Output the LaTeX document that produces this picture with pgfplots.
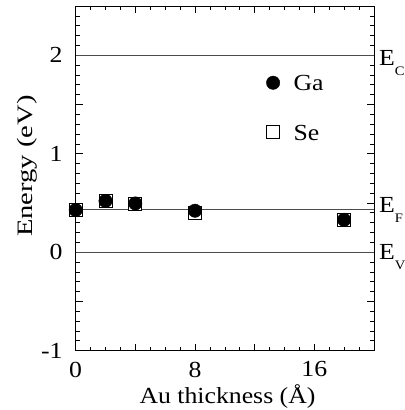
\documentclass[border=0pt]{standalone}
\usepackage{fontspec}
\setmainfont{Liberation Serif}[FakeStretch=1.12]
\newfontfamily\ylabfont{Liberation Serif}[FakeStretch=1.3]
\usepackage{pgfplots}
\pgfplotsset{compat=1.18}
\begin{document}
\fontsize{23}{27}\selectfont
\begin{tikzpicture}
\begin{axis}[
  name=ax,
  scale only axis,
  width=298.3pt, height=344.6pt,
  xmin=0, xmax=20, ymin=-1, ymax=2.5,
  xtick={0,4,8,12,16,20},
  xticklabels={0,,8,,16,},
  ytick={-1,-0.5,0,0.5,1,1.5,2,2.5},
  yticklabels={-1,,0,,1,,2,},
  minor x tick num=3,
  minor y tick num=4,
  tick align=inside,
  major tick length=7pt,
  minor tick length=4pt,
  tick style={black, line width=0.5pt},
  axis line style={line width=0.8pt},
  /pgf/number format/assume math mode=true,
  ticklabel style={font=\fontsize{23}{27}\selectfont, inner sep=0pt},
  xticklabel style={anchor=north, yshift=-11pt},
  yticklabel style={anchor=east, xshift=-13pt},
  xlabel={Au thickness (Å)},
  ylabel={Energy (eV)},
  xlabel style={font=\fontsize{23}{27}\selectfont, inner sep=0pt, at={(axis description cs:0.509,0)}, anchor=base, yshift=-53pt},
  ylabel style={font=\ylabfont\fontsize{22}{26}\selectfont, inner sep=0pt, at={(axis description cs:-0.164,0.535)}, anchor=center},
  clip=false,
]
\addplot[gray!60!black, line width=0.6pt, forget plot] coordinates {(0,2) (20,2)};
\addplot[gray!60!black, line width=0.6pt, forget plot] coordinates {(0,0.433) (20,0.433)};
\addplot[gray!60!black, line width=0.6pt, forget plot] coordinates {(0,0) (20,0)};
% Se (open squares)
\addplot[only marks, mark=square*, mark size=6.5pt, mark options={fill=white, draw=black, line width=0.7pt}]
 coordinates {(0,0.427) (2,0.52) (4,0.485) (8,0.40) (18,0.328) (13.24,1.22)};
% Ga (filled circles)
\addplot[only marks, mark=*, mark size=6.7pt, mark options={fill=black, draw=black}]
 coordinates {(0,0.427) (2,0.52) (4,0.494) (8,0.42) (18,0.328) (13.24,1.72)};
\node[anchor=base west, inner sep=0pt] at (axis cs:14.6,1.645) {Ga};
\node[anchor=base west, inner sep=0pt] at (axis cs:14.6,1.137) {Se};
\node[overlay, anchor=base west, inner sep=0pt, xshift=5pt] at (axis cs:20,1.90) {E\raisebox{-10pt}{\fontsize{13}{13}\selectfont C}};
\node[overlay, anchor=base west, inner sep=0pt, xshift=5pt] at (axis cs:20,0.403) {E\raisebox{-10pt}{\fontsize{13}{13}\selectfont F}};
\node[overlay, anchor=base west, inner sep=0pt, xshift=5pt] at (axis cs:20,-0.08) {E\raisebox{-10pt}{\fontsize{13}{13}\selectfont V}};
\end{axis}
\pgfresetboundingbox
\path[use as bounding box] ([shift={(-75.7pt,-59.5pt)}]ax.south west) rectangle ([shift={(31pt,6pt)}]ax.north east);
\end{tikzpicture}
\end{document}
